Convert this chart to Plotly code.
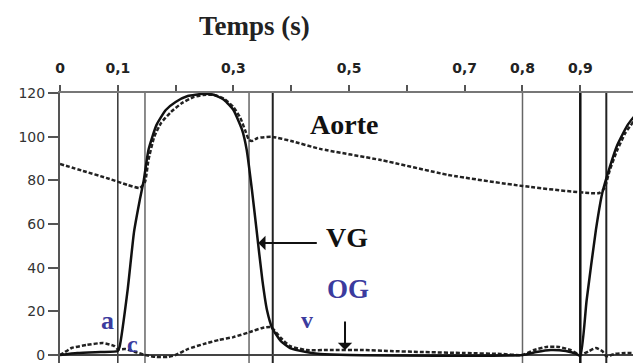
import plotly.graph_objects as go

# ---------------- data (time in s, pressure in mmHg) ----------------
vg_t = [0, 0.03, 0.07, 0.1, 0.103, 0.117, 0.128, 0.138, 0.145, 0.153, 0.167, 0.183, 0.2,
        0.221, 0.248, 0.267, 0.284, 0.3, 0.315, 0.323, 0.332, 0.34, 0.35, 0.358, 0.367,
        0.382, 0.398, 0.426, 0.45, 0.5, 0.8, 0.824, 0.849, 0.875, 0.893, 0.9, 0.911,
        0.927, 0.938, 0.951, 0.964, 0.982, 1.0, 1.007]
vg_p = [0, 0.9, 1.4, 1.8, 3.7, 29.8, 56.3, 71.0, 80.2, 93.9, 105.4, 112.2, 115.9,
        118.6, 119.6, 119.1, 116.8, 112.2, 103.1, 93.9, 75.6, 57.3, 34.4, 20.6, 12.4,
        6.4, 3.2, 1.4, 0.5, 0, 0, 1.4, 2.3, 1.8, 0.5, -0.5, 25.2,
        57.3, 74.2, 86.1, 96.2, 105.4, 111.3, 113.1]

ao_t = [0, 0.04, 0.08, 0.117, 0.138, 0.147, 0.153, 0.163, 0.175, 0.192, 0.211, 0.232,
        0.248, 0.267, 0.284, 0.3, 0.312, 0.32, 0.327, 0.332, 0.342, 0.367, 0.4, 0.45,
        0.555, 0.671, 0.8, 0.933, 0.942, 0.951, 0.964, 0.978, 0.993, 1.007]
ao_p = [87.5, 84.3, 81.1, 77.9, 76.5, 79.2, 89.3, 99.9, 106.3, 111.3, 115.4, 118.2,
        119.1, 119.1, 117.3, 113.6, 108.6, 103.1, 98.5, 98.0, 99.4, 99.9, 98.0, 94.4,
        89.3, 82.5, 77.4, 74.2, 76.5, 84.7, 93.9, 101.7, 107.2, 110.9]

og_t = [0, 0.006, 0.02, 0.046, 0.074, 0.094, 0.1, 0.113, 0.13, 0.147, 0.167, 0.187, 0.2,
        0.221, 0.248, 0.275, 0.3, 0.328, 0.35, 0.365, 0.382, 0.398, 0.426, 0.467, 0.522,
        0.572, 0.623, 0.7, 0.762, 0.8, 0.82, 0.841, 0.863, 0.883, 0.9, 0.915, 0.927,
        0.938, 0.945, 0.96, 0.978, 1.007]
og_p = [0, 0.9, 3.2, 4.6, 5.5, 4.1, 2.7, 2.7, 1.4, 0, -0.9, -0.9, 0,
        2.7, 5.0, 6.9, 8.2, 10.5, 12.4, 12.8, 7.8, 4.1, 2.3, 2.3, 2.3,
        1.8, 1.4, 0.9, 0.5, 0, 2.3, 3.7, 3.7, 2.3, 0, 1.8, 3.2,
        1.8, -0.5, 0.5, 0.9, 0.9]

event_t = [0.1, 0.147, 0.327, 0.368, 0.8, 0.9, 0.945]
event_color = ["#333333", "#666666", "#666666", "#222222", "#666666", "#111111", "#222222"]
event_width = [1.5, 1.5, 1.5, 2, 1.5, 2.5, 2]

x_tickvals = [0, 0.1, 0.2, 0.3, 0.4, 0.5, 0.6, 0.7, 0.8, 0.9, 1.0]
x_ticktext = ["0", "0,1", "", "0,3", "", "0,5", "", "0,7", "0,8", "0,9", ""]
y_tickvals = [0, 20, 40, 60, 80, 100, 120]

BLUE = "#3b3b9e"
SERIF = "Liberation Serif"

fig = go.Figure()
fig.add_trace(go.Scatter(x=ao_t, y=ao_p, mode="lines", name="Aorte",
                         line=dict(color="#222222", width=2.5, dash="4px,2px",
                                   shape="spline", smoothing=0.5)))
fig.add_trace(go.Scatter(x=og_t, y=og_p, mode="lines", name="OG",
                         line=dict(color="#222222", width=2.5, dash="4px,2px",
                                   shape="spline", smoothing=0.5)))
fig.add_trace(go.Scatter(x=vg_t, y=vg_p, mode="lines", name="VG",
                         line=dict(color="#111111", width=2.5,
                                   shape="spline", smoothing=0.5)))

for t, c, w in zip(event_t, event_color, event_width):
    fig.add_shape(type="line", xref="x", yref="paper", x0=t, x1=t, y0=0, y1=1,
                  line=dict(color=c, width=w), layer="below")

ann = [
    dict(text="<b>Temps (s)</b>", xref="paper", yref="paper", x=0.334, y=1.248,
         xanchor="center", yanchor="middle",
         showarrow=False, font=dict(family=SERIF, size=27, color="#222222")),
    dict(text="<b>Aorte</b>", x=0.491, y=105.8, showarrow=False,
         font=dict(family=SERIF, size=28, color="#111111")),
    dict(text="<b>VG</b>", x=0.496, y=53.6, showarrow=False,
         font=dict(family=SERIF, size=28, color="#111111")),
    dict(text="", x=0.343, y=51.3, showarrow=True, ax=60, ay=0,
         arrowhead=1, arrowsize=1.2, arrowwidth=2, arrowcolor="#111111"),
    dict(text="<b>OG</b>", x=0.498, y=30.2, showarrow=False,
         font=dict(family=SERIF, size=27, color=BLUE)),
    dict(text="", x=0.493, y=2.3, showarrow=True, ax=0, ay=-30,
         arrowhead=1, arrowsize=1.2, arrowwidth=2, arrowcolor="#111111"),
    dict(text="<b>a</b>", x=0.083, y=16.0, showarrow=False,
         font=dict(family=SERIF, size=26, color=BLUE)),
    dict(text="<b>c</b>", x=0.126, y=5.0, showarrow=False,
         font=dict(family=SERIF, size=24, color=BLUE)),
    dict(text="<b>v</b>", x=0.428, y=16.0, showarrow=False,
         font=dict(family=SERIF, size=24, color=BLUE)),
]
for a in ann:
    fig.add_annotation(**a)

# page body has an 8px default margin: figure is sized/offset to compensate
fig.update_layout(
    width=633, height=355,
    margin=dict(l=52, r=0, t=85, b=0, autoexpand=False),
    paper_bgcolor="white", plot_bgcolor="white",
    showlegend=False,
    xaxis=dict(range=[0, 1.005], side="top", tickvals=x_tickvals, ticktext=x_ticktext,
               ticks="outside", ticklen=6, tickwidth=1.5, tickcolor="#555555",
               showline=True, linecolor="#777777", linewidth=2, automargin=False,
               showgrid=False, zeroline=False, ticklabelstandoff=6,
               tickfont=dict(family="DejaVu Sans", size=14, color="#222222", weight="bold")),
    yaxis=dict(range=[-3.66, 120], tickvals=y_tickvals, automargin=False,
               ticks="outside", ticklen=10, tickwidth=1.5, tickcolor="#555555",
               showline=True, linecolor="#555555", linewidth=2,
               showgrid=False, zeroline=True, zerolinecolor="#444444", zerolinewidth=1.5,
               tickfont=dict(family="DejaVu Sans", size=14, color="#333333")),
)

fig.write_html("out.html")
